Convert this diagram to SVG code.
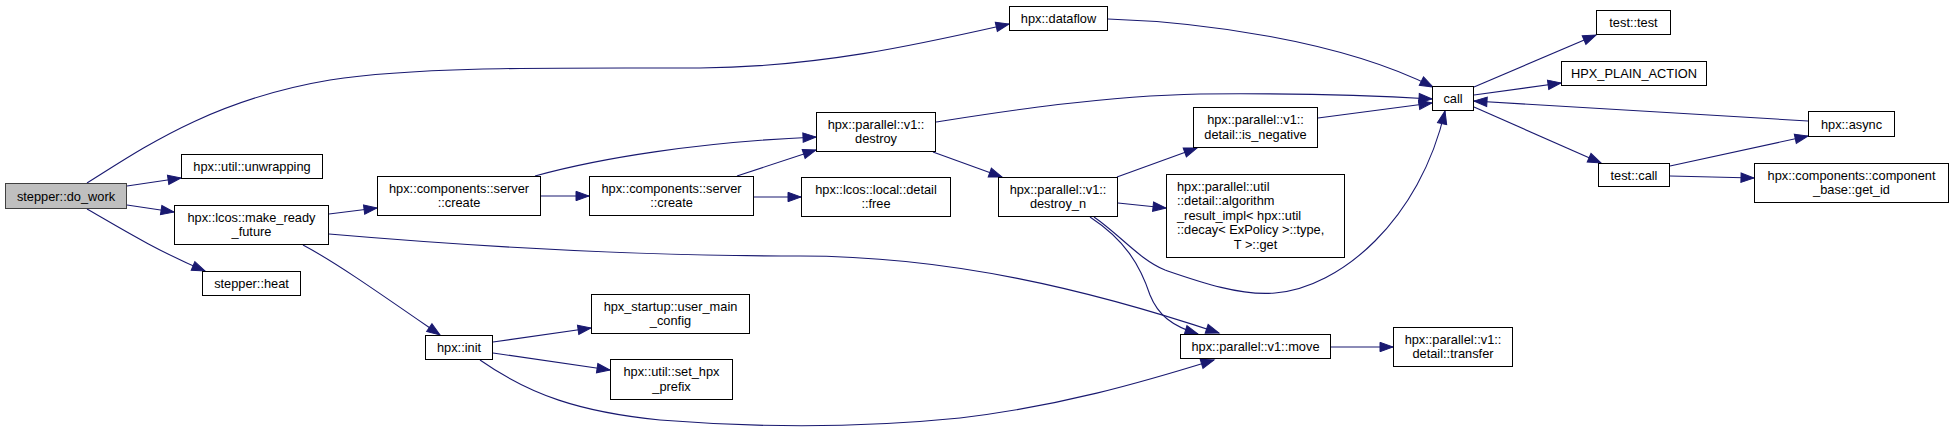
<svg xmlns="http://www.w3.org/2000/svg" width="1955" height="439" viewBox="0 0 1955 439">
<style>
.node rect{fill:#ffffff;stroke:#000000;stroke-width:1}
.node rect.hl{fill:#bfbfbf;stroke:#404040}
.node text{font-family:"Liberation Sans",Arial,sans-serif;font-size:12.8px;fill:#000000;text-anchor:middle}
.node text.l{text-anchor:start}
.edges path{fill:none;stroke:#191970;stroke-width:1.1;marker-end:url(#arr)}
</style>
<defs>
<marker id="arr" markerUnits="userSpaceOnUse" markerWidth="14" markerHeight="10" refX="13" refY="4.7" orient="auto" overflow="visible">
<path d="M0,0 L13,4.7 L0,9.4 z" fill="#191970" stroke="#191970" stroke-width="1"/>
</marker>
</defs>
<rect x="0" y="0" width="1955" height="439" fill="#ffffff"/>
<g class="edges" id="edges">
<path d="M87,183 C140,150 210,100 330,80 C420,66 560,68 700,68 C820,67 920,44 1009,24"/>
<path d="M127,186 L181,178"/>
<path d="M127,205 L174,212"/>
<path d="M87,209 C115,225 155,250 205,271"/>
<path d="M329,214 L377,208"/>
<path d="M329,234 C480,247 650,256 800,256 C950,256 1090,290 1219,333"/>
<path d="M303,245 C335,262 375,290 440,335"/>
<path d="M535,176 C600,158 700,142 816,137"/>
<path d="M541,196 L589,196"/>
<path d="M737,176 L816,150"/>
<path d="M754,197 L801,197"/>
<path d="M933,152 L1002,177"/>
<path d="M936,122 C1000,112 1100,96 1200,94 C1300,93 1380,96 1432,99"/>
<path d="M1108,19 C1200,22 1340,40 1433,87"/>
<path d="M1318,118 L1432,103"/>
<path d="M1117,177 L1197,148"/>
<path d="M1118,203 L1166,208"/>
<path d="M1094,217 C1120,235 1140,260 1165,270 C1200,282 1240,296 1275,293 C1340,288 1420,220 1445,111"/>
<path d="M1090,217 C1125,240 1140,265 1150,295 C1158,315 1172,326 1198,334"/>
<path d="M493,342 L591,328"/>
<path d="M493,353 L610,370"/>
<path d="M480,360 C530,395 580,412 660,420 C760,428 860,428 960,418 C1060,406 1140,383 1214,360"/>
<path d="M1474,87 L1596,35"/>
<path d="M1474,95 L1561,83"/>
<path d="M1474,107 L1601,163"/>
<path d="M1808,121 L1474,101"/>
<path d="M1670,166 L1808,136"/>
<path d="M1670,176 L1754,178"/>
<path d="M1331,347 L1393,347"/>
</g>
<g class="node" id="node-do_work"><rect class="hl" x="5.5" y="183.5" width="121" height="25"/><text x="66" y="200.5">stepper::do_work</text></g>
<g class="node" id="node-unwrapping"><rect x="181.5" y="154.5" width="141" height="24"/><text x="252" y="171">hpx::util::unwrapping</text></g>
<g class="node" id="node-make_ready_future"><rect x="174.5" y="205.5" width="154" height="39"/><text x="251.5" y="221.5">hpx::lcos::make_ready</text><text x="251.5" y="236">_future</text></g>
<g class="node" id="node-heat"><rect x="202.5" y="271.5" width="98" height="24"/><text x="251.5" y="288">stepper::heat</text></g>
<g class="node" id="node-dataflow"><rect x="1009.5" y="6.5" width="98" height="24"/><text x="1058.5" y="23">hpx::dataflow</text></g>
<g class="node" id="node-create1"><rect x="377.5" y="176.5" width="163" height="39"/><text x="459" y="192.5">hpx::components::server</text><text x="459" y="207">::create</text></g>
<g class="node" id="node-create2"><rect x="589.5" y="176.5" width="164" height="39"/><text x="671.5" y="192.5">hpx::components::server</text><text x="671.5" y="207">::create</text></g>
<g class="node" id="node-free"><rect x="801.5" y="177.5" width="149" height="39"/><text x="876" y="193.5">hpx::lcos::local::detail</text><text x="876" y="208">::free</text></g>
<g class="node" id="node-destroy"><rect x="816.5" y="112.5" width="119" height="39"/><text x="876" y="128.5">hpx::parallel::v1::</text><text x="876" y="143">destroy</text></g>
<g class="node" id="node-destroy_n"><rect x="998.5" y="177.5" width="119" height="39"/><text x="1058" y="193.5">hpx::parallel::v1::</text><text x="1058" y="208">destroy_n</text></g>
<g class="node" id="node-is_negative"><rect x="1193.5" y="107.5" width="124" height="40"/><text x="1255.5" y="124">hpx::parallel::v1::</text><text x="1255.5" y="138.5">detail::is_negative</text></g>
<g class="node" id="node-algorithm_result"><rect x="1166.5" y="174.5" width="178" height="83"/><text class="l" x="1177" y="190.5">hpx::parallel::util</text><text class="l" x="1177" y="205">::detail::algorithm</text><text class="l" x="1177" y="219.5">_result_impl&lt; hpx::util</text><text class="l" x="1177" y="234">::decay&lt; ExPolicy &gt;::type,</text><text x="1255.5" y="248.5">T &gt;::get</text></g>
<g class="node" id="node-call"><rect x="1432.5" y="86.5" width="41" height="24"/><text x="1453" y="103">call</text></g>
<g class="node" id="node-test_test"><rect x="1596.5" y="10.5" width="74" height="24"/><text x="1633.5" y="27">test::test</text></g>
<g class="node" id="node-plain_action"><rect x="1561.5" y="61.5" width="145" height="24"/><text x="1634" y="78">HPX_PLAIN_ACTION</text></g>
<g class="node" id="node-async"><rect x="1808.5" y="111.5" width="86" height="25"/><text x="1851.5" y="128.5">hpx::async</text></g>
<g class="node" id="node-test_call"><rect x="1598.5" y="163.5" width="71" height="23"/><text x="1634" y="179.5">test::call</text></g>
<g class="node" id="node-get_id"><rect x="1754.5" y="163.5" width="194" height="39"/><text x="1851.5" y="179.5">hpx::components::component</text><text x="1851.5" y="194">_base::get_id</text></g>
<g class="node" id="node-move"><rect x="1180.5" y="334.5" width="150" height="24"/><text x="1255.5" y="351">hpx::parallel::v1::move</text></g>
<g class="node" id="node-transfer"><rect x="1393.5" y="327.5" width="119" height="39"/><text x="1453" y="343.5">hpx::parallel::v1::</text><text x="1453" y="358">detail::transfer</text></g>
<g class="node" id="node-init"><rect x="425.5" y="335.5" width="67" height="24"/><text x="459" y="352">hpx::init</text></g>
<g class="node" id="node-user_main_config"><rect x="591.5" y="294.5" width="158" height="39"/><text x="670.5" y="310.5">hpx_startup::user_main</text><text x="670.5" y="325">_config</text></g>
<g class="node" id="node-set_hpx_prefix"><rect x="610.5" y="359.5" width="122" height="40"/><text x="671.5" y="376">hpx::util::set_hpx</text><text x="671.5" y="390.5">_prefix</text></g>
</svg>
